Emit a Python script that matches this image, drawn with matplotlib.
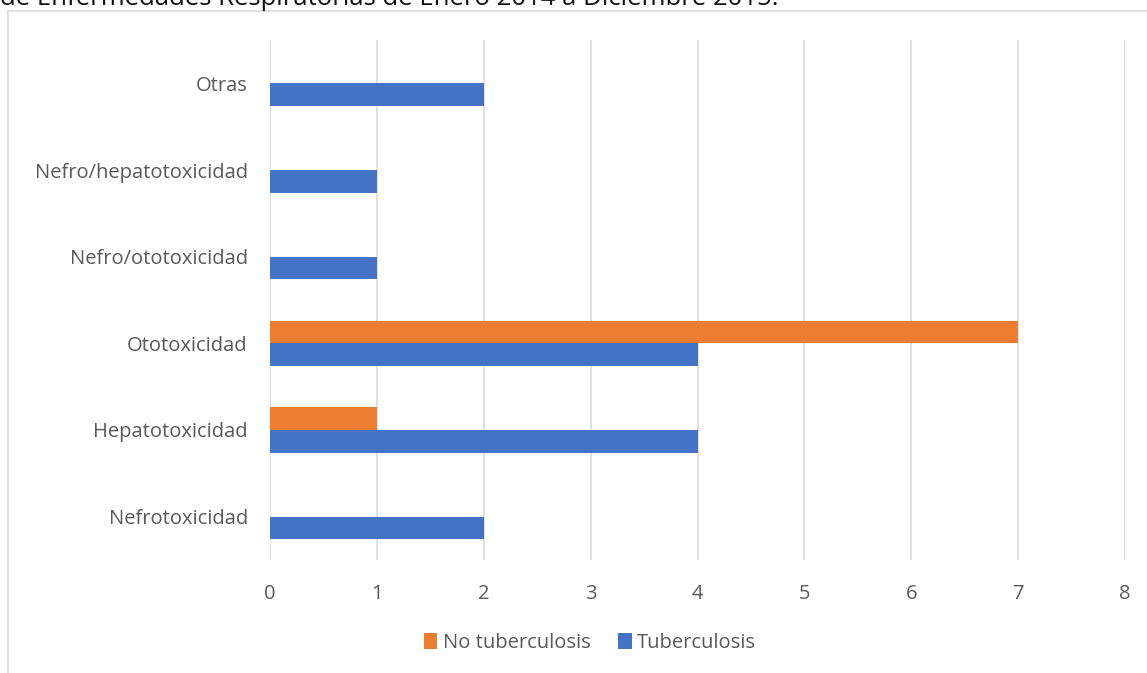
import matplotlib.pyplot as plt
import numpy as np
from matplotlib.patches import Rectangle

categorias = ["Nefrotoxicidad", "Hepatotoxicidad", "Ototoxicidad",
              "Nefro/ototoxicidad", "Nefro/hepatotoxicidad", "Otras"]
tuberculosis = [2, 4, 4, 1, 1, 2]
no_tuberculosis = [0, 1, 7, 0, 0, 0]

azul = "#4472C4"
naranja = "#ED7D31"
gris_texto = "#595959"

plt.rcParams["font.family"] = ["Open Sans", "DejaVu Sans"]

fig = plt.figure(figsize=(11.47, 6.73), dpi=100)
ax = fig.add_axes([270 / 1147, 1 - 560 / 673, (1125 - 270) / 1147, 520 / 673])

# chart frame and the cut-off title line above it
fig.patches.append(Rectangle((8 / 1147, -0.05), 1.1, 1 - 11 / 673 + 0.05,
                             transform=fig.transFigure, fill=False,
                             edgecolor="#d9d9d9", linewidth=1.2))
fig.text(0.0, 1 - 5 / 673, "de Enfermedades Respiratorias de Enero 2014 a Diciembre 2015.",
         fontsize=18.5, color="#111111", va="baseline", ha="left")

y = np.arange(len(categorias))
h = 0.26
ax.barh(y - h / 2, tuberculosis, height=h, color=azul, label="Tuberculosis", zorder=3)
ax.barh(y + h / 2, no_tuberculosis, height=h, color=naranja, label="No tuberculosis", zorder=3)

ax.set_xlim(0, 8)
ax.set_ylim(-0.5, len(categorias) - 0.5)
ax.set_xticks(range(9))
ax.set_yticks(y)
ax.set_yticklabels(categorias)
ax.grid(axis="x", color="#d9d9d9", linewidth=1.2, zorder=0)
for s in ax.spines.values():
    s.set_visible(False)
ax.tick_params(axis="both", length=0, labelsize=14.5, labelcolor=gris_texto)
ax.tick_params(axis="x", pad=17)
ax.tick_params(axis="y", pad=16)

handles, labels = ax.get_legend_handles_labels()
fig.legend(handles[::-1], labels[::-1], loc="center", bbox_to_anchor=(590 / 1147, 1 - 643 / 673),
           ncol=2, frameon=False, fontsize=14.5, labelcolor=gris_texto,
           handlelength=0.65, handleheight=0.8, handletextpad=0.25, columnspacing=1.4)

fig.savefig("out.png", dpi=100)
